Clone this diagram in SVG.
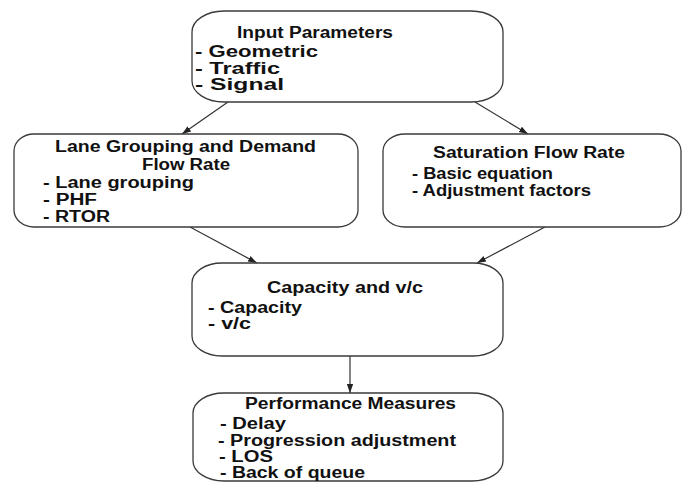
<svg xmlns="http://www.w3.org/2000/svg" width="684" height="483" viewBox="0 0 684 483">
<style>
.box{fill:#fff;stroke:#3a3a3a;stroke-width:1.3}
.t{font-family:"Liberation Sans",Arial,sans-serif;font-weight:bold;font-size:16px;fill:#111}
.edge{stroke:#333;stroke-width:1.2;fill:none;marker-end:url(#ah)}
</style>
<defs>
<marker id="ah" viewBox="0 0 10 10" refX="10" refY="5" markerWidth="9" markerHeight="9" markerUnits="userSpaceOnUse" orient="auto">
<path d="M0,1.5 L10,5 L0,8.5 z" fill="#222"/>
</marker>
</defs>
<rect width="684" height="483" fill="#fff"/>
<g id="connectors">
<line class="edge" x1="228" y1="102" x2="182" y2="134"/>
<line class="edge" x1="475" y1="102" x2="528" y2="134"/>
<line class="edge" x1="190" y1="227" x2="257" y2="263"/>
<line class="edge" x1="545" y1="227" x2="477" y2="263"/>
<line class="edge" x1="350" y1="356" x2="350" y2="393"/>
</g>
<g id="input">
<rect class="box" x="192" y="11" width="311" height="91" rx="32" ry="21"/>
<text class="t" x="237" y="38" textLength="156" lengthAdjust="spacingAndGlyphs">Input Parameters</text>
<text class="t" x="195" y="57" textLength="123" lengthAdjust="spacingAndGlyphs">- Geometric</text>
<text class="t" x="195" y="74" textLength="85" lengthAdjust="spacingAndGlyphs">- Traffic</text>
<text class="t" x="195" y="90" textLength="89" lengthAdjust="spacingAndGlyphs">- Signal</text>
</g>
<g id="lane">
<rect class="box" x="14" y="134" width="344" height="93" rx="20" ry="17"/>
<text class="t" x="55" y="152" textLength="261" lengthAdjust="spacingAndGlyphs">Lane Grouping and Demand</text>
<text class="t" x="142" y="170" textLength="88" lengthAdjust="spacingAndGlyphs">Flow Rate</text>
<text class="t" x="43" y="188" textLength="151" lengthAdjust="spacingAndGlyphs">- Lane grouping</text>
<text class="t" x="43" y="205" textLength="54" lengthAdjust="spacingAndGlyphs">- PHF</text>
<text class="t" x="43" y="222" textLength="67" lengthAdjust="spacingAndGlyphs">- RTOR</text>
</g>
<g id="saturation">
<rect class="box" x="383" y="134" width="298" height="93" rx="22" ry="17"/>
<text class="t" x="433" y="158" textLength="192" lengthAdjust="spacingAndGlyphs">Saturation Flow Rate</text>
<text class="t" x="412" y="179" textLength="141" lengthAdjust="spacingAndGlyphs">- Basic equation</text>
<text class="t" x="412" y="196" textLength="179" lengthAdjust="spacingAndGlyphs">- Adjustment factors</text>
</g>
<g id="capacity">
<rect class="box" x="192" y="263" width="311" height="93" rx="30" ry="20"/>
<text class="t" x="267" y="293" textLength="156" lengthAdjust="spacingAndGlyphs">Capacity and v/c</text>
<text class="t" x="208" y="313" textLength="94" lengthAdjust="spacingAndGlyphs">- Capacity</text>
<text class="t" x="208" y="329" textLength="43" lengthAdjust="spacingAndGlyphs">- v/c</text>
</g>
<g id="performance">
<rect class="box" x="193" y="393" width="310" height="88" rx="31" ry="20"/>
<text class="t" x="245" y="409" textLength="211" lengthAdjust="spacingAndGlyphs">Performance Measures</text>
<text class="t" x="220" y="429" textLength="66" lengthAdjust="spacingAndGlyphs">-  Delay</text>
<text class="t" x="218" y="446" textLength="238" lengthAdjust="spacingAndGlyphs">- Progression adjustment</text>
<text class="t" x="219" y="462" textLength="54" lengthAdjust="spacingAndGlyphs">- LOS</text>
<text class="t" x="220" y="478" textLength="145" lengthAdjust="spacingAndGlyphs">- Back of queue</text>
</g>
</svg>
